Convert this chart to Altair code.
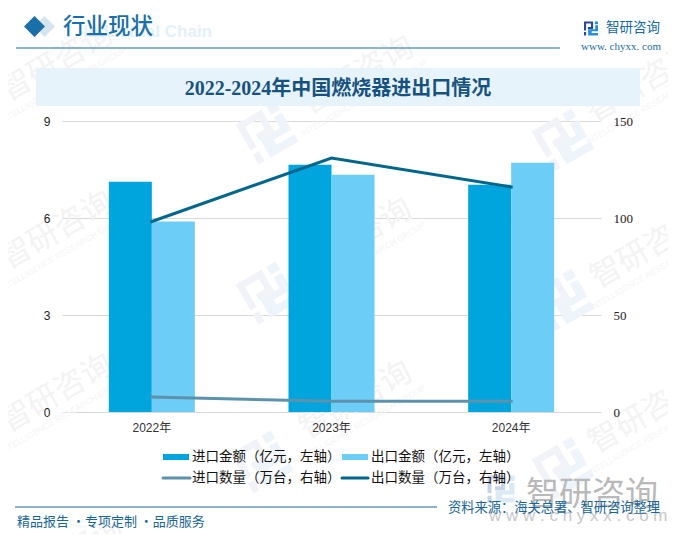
import altair as alt
import pandas as pd

years = ["2022年", "2023年", "2024年"]
import_value = [7.12, 7.65, 7.03]
export_value = [5.89, 7.34, 7.71]
import_qty = [7.7, 5.5, 5.5]
export_qty = [98.2, 130.9, 116.0]

title_text = "2022-2024年中国燃烧器进出口情况"
C_IMP, C_EXP, C_LIMP, C_LEXP = "#00A5DE", "#6CCDF6", "#5C92AB", "#00668C"
CJK = "Noto Sans CJK SC"
X0, Y0 = 62.0, 121.0
PLOT_W, PLOT_H = 539, 291

one = pd.DataFrame({"a": [0]})
LOGO_A = "M-1,-1H0.3V0.1H-0.45V-0.2H0V-0.7H-0.7V0.3H-1ZM-1,0.5H-0.7V1H-1Z"
LOGO_B = "M0.55,-1H1V-0.6H0.55ZM0.6,-0.45H1V0.4H0.1V0.65H1V1H-0.4V0.1H0.6Z"


def text(s, x, y, size, color, **kw):
    kw.setdefault("font", CJK)
    kw.setdefault("align", "left")
    return alt.Chart(one).mark_text(text=s, fontSize=size, color=color, baseline="middle", **kw).encode(
        x=alt.value(x - X0), y=alt.value(y - Y0))


def rect(x1, x2, y1, y2, color):
    return alt.Chart(one).mark_rect(color=color).encode(
        x=alt.value(x1 - X0), x2=alt.value(x2 - X0), y=alt.value(y1 - Y0), y2=alt.value(y2 - Y0))


def hline(x1, x2, y, color, w=1.0, cap="butt"):
    return alt.Chart(one).mark_rule(color=color, strokeWidth=w, strokeCap=cap).encode(
        x=alt.value(x1 - X0), x2=alt.value(x2 - X0), y=alt.value(y - Y0))


def sym(shape, x, y, side, color, angle=0):
    return alt.Chart(one).mark_point(shape=shape, size=side * side, filled=True, color=color,
                                     opacity=1, angle=angle, strokeWidth=0).encode(
        x=alt.value(x - X0), y=alt.value(y - Y0))


layers = []

# watermarks
for cx, cy in [(57, 63), (57, 231), (57, 394), (67, 556), (358, 76), (356, 238), (356, 401),
               (643, 84), (647, 250), (645, 415)]:
    layers.append(text("智研咨询", cx, cy, 31, "#F3F3F3", angle=330, align="center"))
    layers.append(text("INTELLIGENCE RESEARCH GROUP", cx + 6, cy + 22, 8.5, "#F4F4F4",
                       angle=330, align="center", font="Liberation Sans"))
for cx, cy in [(267, 133), (267, 293), (262, 462), (563, 140), (563, 300), (563, 468)]:
    layers.append(sym(LOGO_A, cx, cy, 46, "#F1F3F8", 330))
    layers.append(sym(LOGO_B, cx, cy, 46, "#EDF5FB", 330))

# header
layers.append(text("Industrial Chain", 212, 32, 17, "#E3F1FA", align="right", font="Liberation Sans", fontWeight="bold"))
layers.append(sym("diamond", 44.5, 26.5, 21, "#D5E5EF"))
layers.append(sym("diamond", 34.5, 26.5, 21, "#1A6FA8"))
layers.append(text("行业现状", 63, 27, 22.5, "#1A6FA8", fontWeight=500))
layers.append(hline(16, 560, 48, "#1A6FA8", 1.2))
layers.append(sym(LOGO_A, 591, 28.5, 14, "#2A4A96"))
layers.append(sym(LOGO_B, 591, 28.5, 14, "#2A8FD8"))
layers.append(text("智研咨询", 606, 28, 13.5, "#15699F"))
layers.append(text("www. chyxx. com", 581, 47, 11, "#1C6B9E", font="Liberation Serif"))
layers.append(rect(36, 640, 68, 106, "#E6F3FB"))
layers.append(text(title_text, 338, 88.5, 20, "#17527E", align="center",
                   font="Liberation Serif, Noto Sans CJK SC", fontWeight="bold"))

# big bottom-right mark
layers.append(sym(LOGO_A, 501, 489, 27, "#C9D3E6"))
layers.append(sym(LOGO_B, 501, 489, 27, "#DCEAF6"))
layers.append(text("智研咨询", 526, 495, 33, "#B9B9B9"))
layers.append(text("w w w . c h y x x . c o m", 489, 516, 17, "#C8C8C8", font="Liberation Sans"))

# chart data
df = pd.DataFrame({"year": years, "iv": import_value, "ev": export_value, "iq": import_qty, "eq": export_qty})
xenc = alt.X("year:N", sort=years, scale=alt.Scale(paddingInner=0, paddingOuter=0),
             axis=alt.Axis(title=None, labelAngle=0, domain=False, ticks=False, labelPadding=10, zindex=1,
                           labelFont="Liberation Sans, Noto Sans CJK SC", labelFontSize=12, labelColor="#333333"))
yl = alt.Scale(domain=[0, 9], nice=False)
yr = alt.Scale(domain=[0, 150], nice=False)
grid_axis = alt.Axis(title=None, orient="left", values=[0, 3, 6, 9], grid=True, gridColor="#D9D9D9", gridWidth=1,
                     domain=False, ticks=False, labels=False)
laxis = alt.Axis(title=None, orient="left", values=[0, 3, 6, 9], grid=False, domain=False, zindex=1,
                 ticks=False, labelPadding=12, labelFont="Liberation Sans", labelFontSize=12, labelColor="#222222")
raxis = alt.Axis(title=None, orient="right", values=[0, 50, 100, 150], grid=False, domain=False, ticks=False, zindex=1,
                 labelPadding=12, labelFont="Liberation Serif", labelFontSize=13, labelColor="#222222")

bars_a = alt.Chart(df).mark_bar(width=43, xOffset=-21.5, color=C_IMP).encode(
    x=xenc, y=alt.Y("iv:Q", scale=yl, axis=grid_axis))
bars_b = alt.Chart(df).mark_bar(width=43, xOffset=21.5, color=C_EXP).encode(
    x=xenc, y=alt.Y("ev:Q", scale=yl, axis=laxis))
line_a = alt.Chart(df).mark_line(color=C_LIMP, strokeWidth=3, strokeCap="square").encode(
    x=xenc, y=alt.Y("iq:Q", scale=yr, axis=raxis))
line_b = alt.Chart(df).mark_line(color=C_LEXP, strokeWidth=3, strokeCap="square").encode(
    x=xenc, y=alt.Y("eq:Q", scale=yr, axis=None))

# legend + footer
foot = [
    rect(163, 189, 454, 460, C_IMP),
    text("进口金额（亿元，左轴）", 192, 457, 13.5, "#111111"),
    rect(342, 368, 454, 460, C_EXP),
    text("出口金额（亿元，左轴）", 371, 457, 13.5, "#111111"),
    hline(163, 190, 478, C_LIMP, 3, "round"),
    text("进口数量（万台，右轴）", 192, 478, 13.5, "#111111"),
    hline(342, 368, 478, C_LEXP, 3, "round"),
    text("出口数量（万台，右轴）", 371, 478, 13.5, "#111111"),
    hline(15, 437, 507, "#1A6596", 1.2),
    text("精品报告 ·专项定制 ·品质服务", 17, 522, 13, "#1A6596"),
    text("资料来源：海关总署、智研咨询整理", 448, 508, 13.25, "#1A6596"),
]

chart = alt.layer(*layers, bars_a, bars_b, line_a, line_b, *foot).resolve_scale(y="independent").properties(
    width=PLOT_W, height=PLOT_H,
    padding={"left": 54, "top": 113, "right": 67, "bottom": 122},
    autosize=alt.AutoSizeParams(type="none"),
    background="white",
).configure_view(stroke=None)

chart.save("out.html", embed_options={"renderer": "svg", "actions": False})
